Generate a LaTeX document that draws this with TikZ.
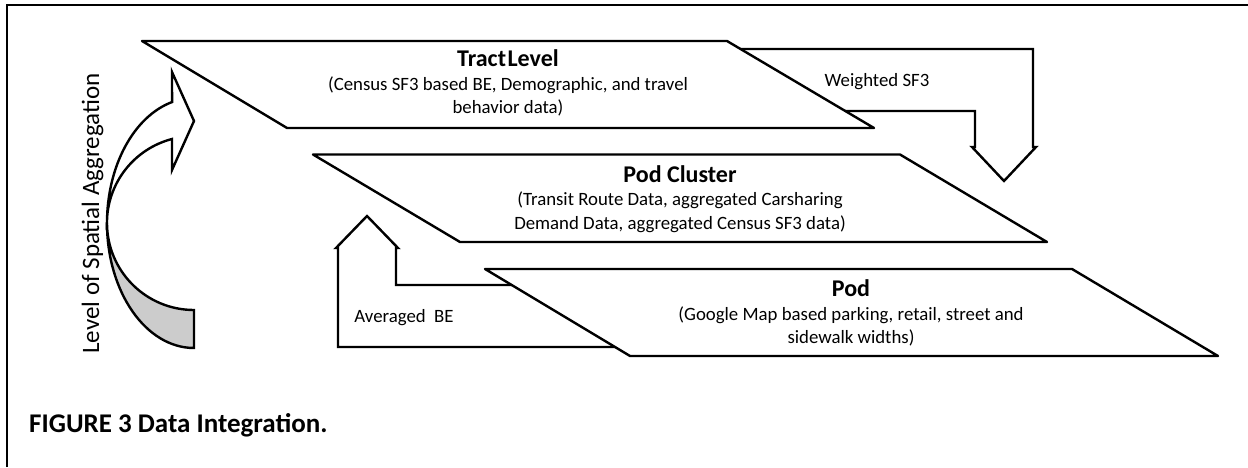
\documentclass[tikz,border=0pt]{standalone}
\usepackage{fontspec}
\setmainfont{Carlito}
\usetikzlibrary{positioning}
\newcommand{\lvltitle}[1]{{\bfseries\fontsize{24}{26}\selectfont #1}}
\begin{document}
\begin{tikzpicture}[x=1pt, y=1pt,
    level/.style = {draw, fill=white, line width=2.4pt, line join=round},
    band/.style = {draw, fill=white, line width=2.4pt, line join=miter},
    txt/.style = {align=center, inner sep=0pt,
        font=\fontsize{18.8}{23.5}\selectfont}]

\useasboundingbox (0,0) rectangle (1248,467);

% Frame
\draw[line width=2pt] (7,0) -- (7,462) -- (1248,462);

% Weighted SF3 arrow (behind the tract)
\draw[band] (700,418) -- (1033,418) -- (1033,320) -- (1036,320)
    -- (1004,286) -- (972,320) -- (975,320) -- (975,356) -- (820,356) -- cycle;

% Averaged BE arrow (behind the pod)
\draw[band] (660,120) -- (338,120) -- (338,219) -- (336,219)
    -- (367,251) -- (398,219) -- (396,219) -- (396,182) -- (560,182) -- cycle;

% Tract level
\draw[level] (142,426) -- (727,426) -- (874,339) -- (287,339) -- cycle;
\node[txt] (tract) at (508,384)
    {\lvltitle{Tract\kern0.06em Level}\\
     (Census SF3 based BE, Demographic, and travel\\ behavior data)};

% Pod cluster
\draw[level] (313,312.5) -- (900,312.5) -- (1047,225) -- (460,225) -- cycle;
\node[txt] (cluster) at (680,268)
    {\lvltitle{Pod Cluster}\\
     (Transit Route Data, aggregated Carsharing\\
     Demand Data, aggregated Census SF3 data)};

% Pod
\draw[level] (485,198) -- (1072,198) -- (1218,111) -- (630,111) -- cycle;
\node[txt] (pod) at (851,154)
    {\lvltitle{Pod}\\
     (Google Map based parking, retail, street and\\ sidewalk widths)};

% Arrow labels
\node[txt] (wsf) at (877,385) {Weighted SF3};
\node[txt] (abe) at (404,149) {Averaged\ \ BE};

% Curved arrow, shaded underside
\draw[band, fill=black!20] (107,244)
    arc[start angle=180, end angle=270, x radius=87pt, y radius=125pt]
    -- (194,157) arc[start angle=270, end angle=180, radius=87pt] -- cycle;
% Curved arrow, front
\draw[band] (107,244)
    arc[start angle=180, end angle=104.6, x radius=87pt, y radius=125pt]
    -- (172,395) -- (194,346) -- (172,297) -- (172,328)
    arc[start angle=104.6, end angle=180, radius=87pt] -- cycle;

% Axis label
\node[txt, rotate=90, anchor=base, font=\fontsize{25}{30}\selectfont]
    (axis) at (99,253.5) {Level of Spatial Aggregation};

% Caption
\node[txt, anchor=base west, font=\bfseries\fontsize{27}{32}\selectfont]
    (caption) at (29,35) {FIGURE 3 Data Integration.};

\end{tikzpicture}
\end{document}
